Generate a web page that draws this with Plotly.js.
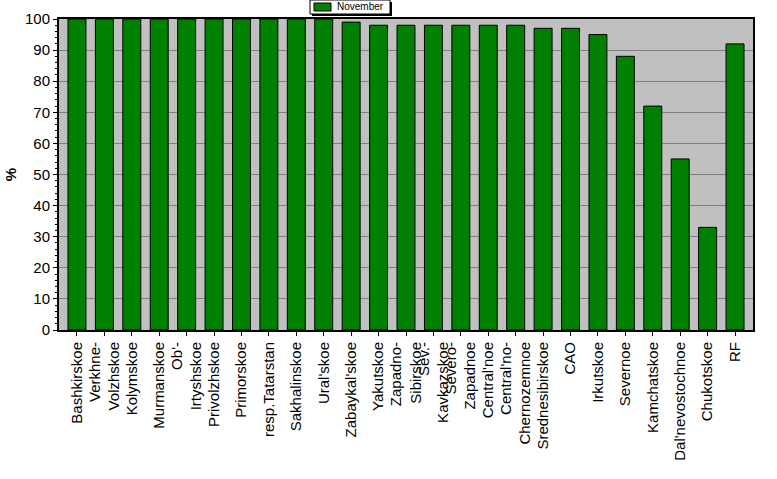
<!DOCTYPE html>
<html>
<head>
<meta charset="utf-8">
<script src="https://cdn.plot.ly/plotly-3.0.1.min.js"></script>
<style>html,body{margin:0;padding:0;background:#fff;}</style>
</head>
<body>
<div id="chart" style="width:777px;height:479px;"></div>
<script>
const categories = [
  "Bashkirskoe", "Verkhne-<br>Volzhskoe", "Kolymskoe", "Murmanskoe", "Ob'-<br>Irtyshskoe",
  "Privolzhskoe", "Primorskoe", "resp.Tatarstan", "Sakhalinskoe", "Ural'skoe",
  "Zabaykal'skoe", "Yakutskoe", "Zapadno-<br>Sibirskoe", "Sev.-<br>Kavkazskoe", "Severo-<br>Zapadnoe",
  "Central'noe", "Central'no-<br>Chernozemnoe", "Srednesibirskoe", "CAO", "Irkutskoe",
  "Severnoe", "Kamchatskoe", "Dal'nevostochnoe", "Chukotskoe", "RF"
];
const november = [100, 100, 100, 100, 100, 100, 100, 100, 100, 100,
                  99, 98, 98, 98, 98, 98, 98, 97, 97, 95,
                  88, 72, 55, 33, 92];
const yTicks = [0, 10, 20, 30, 40, 50, 60, 70, 80, 90, 100];
const seriesName = "November";
const yTitle = "%";

const font = "Liberation Sans, Arial, sans-serif";
const idx = categories.map((c, i) => i);
const green = "#008000";

// legend box drawn in paper coordinates (pixel-based conversion)
const L = 59, T = 19, W = 694, H = 311;
const px = v => (v - L) / W;
const py = v => 1 - (v - T) / H;

Plotly.newPlot("chart", [{
  type: "bar",
  x: idx,
  y: november,
  name: seriesName,
  marker: { color: green, line: { color: "#000000", width: 1 } },
  showlegend: false
}], {
  width: 777, height: 479,
  margin: { l: L, r: 777 - L - W, t: T, b: 479 - T - H, autoexpand: false },
  paper_bgcolor: "#ffffff",
  plot_bgcolor: "#c0c0c0",
  bargap: 0.345,
  font: { family: font, color: "#000" },
  xaxis: {
    range: [-0.655, categories.length - 1 + 0.655],
    tickmode: "array",
    tickvals: idx,
    ticktext: categories,
    tickangle: -90,
    tickfont: { size: 15, family: font, color: "#000" },
    ticks: "outside", ticklen: 4, tickcolor: "#000",
    showgrid: false, zeroline: false,
    showline: true, linecolor: "#000", linewidth: 2, mirror: true,
    fixedrange: true
  },
  yaxis: {
    range: [0, 100],
    tickmode: "array",
    tickvals: yTicks,
    ticktext: yTicks.map(String),
    tickfont: { size: 15, family: font, color: "#000" },
    ticks: "outside", ticklen: 4, tickcolor: "#000",
    minor: { dtick: 2, ticks: "outside", ticklen: 2, tickcolor: "#000", showgrid: false },
    showgrid: true, gridcolor: "#808080", gridwidth: 1,
    zeroline: false,
    showline: true, linecolor: "#000", linewidth: 2, mirror: true,
    automargin: true,
    title: { text: yTitle, font: { size: 15, family: font, color: "#000", weight: "bold" }, standoff: 5 },
    fixedrange: true
  },
  shapes: [
    { type: "rect", xref: "paper", yref: "paper", x0: px(312), x1: px(392), y0: py(16), y1: py(2),
      fillcolor: "#000", line: { width: 0 } },
    { type: "rect", xref: "paper", yref: "paper", x0: px(310), x1: px(390), y0: py(14), y1: py(0),
      fillcolor: "#fff", line: { color: "#000", width: 1 } },
    { type: "rect", xref: "paper", yref: "paper", x0: px(314), x1: px(331), y0: py(11), y1: py(3),
      fillcolor: green, line: { color: "#000", width: 1 } }
  ],
  annotations: [
    { xref: "paper", yref: "paper", x: px(335), y: py(7), xanchor: "left", yanchor: "middle",
      text: seriesName, showarrow: false, font: { size: 10, family: font, color: "#000" } }
  ]
}, { displayModeBar: false, staticPlot: true });
</script>
</body>
</html>
